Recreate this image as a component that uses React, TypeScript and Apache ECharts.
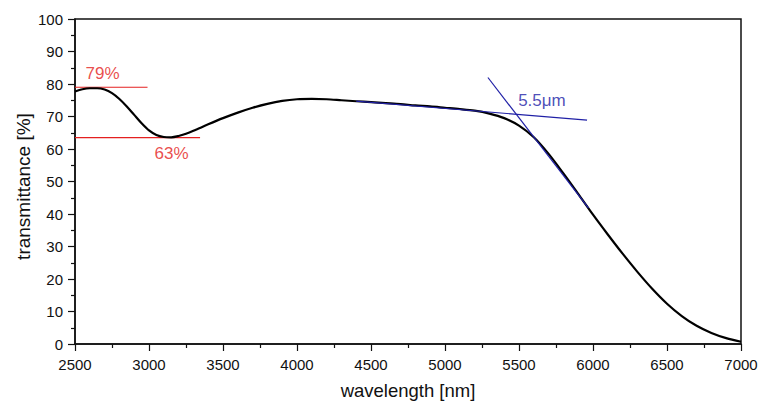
import { useEffect, useRef } from "react";
import * as echarts from "echarts";

const wavelength = [
  2500, 2550, 2600, 2650, 2700, 2750, 2800, 2850, 2900, 2950, 3000, 3050, 3100, 3150, 3200, 3250,
  3300, 3400, 3500, 3600, 3700, 3800, 3900, 4000, 4100, 4200, 4300, 4400, 4500, 4600, 4700, 4800,
  4900, 5000, 5100, 5200, 5300, 5400, 5500, 5600, 5700, 5800, 5900, 6000, 6100, 6200, 6300, 6400,
  6500, 6600, 6700, 6800, 6900, 7000,
];
const transmittance = [
  77.7, 78.4, 78.7, 78.7, 78.3, 77.2, 75.4, 73.1, 70.5, 67.9, 65.7, 64.3, 63.7, 63.6, 64.0, 64.7,
  65.6, 67.6, 69.5, 71.2, 72.7, 73.9, 74.8, 75.3, 75.4, 75.3, 75.0, 74.7, 74.4, 74.1, 73.8, 73.4,
  73.1, 72.7, 72.3, 71.8, 70.9, 69.5, 67.2, 63.6, 58.5, 52.5, 46.2, 39.8, 33.7, 27.8, 22.2, 17.0,
  12.4, 8.6, 5.6, 3.4, 1.8, 0.7,
];

// annotation lines [x, y]
const maxLine = [[2500, 79], [2990, 79]];
const minLine = [[2500, 63.5], [3345, 63.5]];
const plateauTangent = [[4400, 74.75], [5960, 68.9]];
const edgeTangent = [[5290, 82.0], [5970, 41.8]];

// annotation labels
const redLabels = [
  { name: "79%", value: [2686, 83.2] },
  { name: "63%", value: [3152, 58.6] },
];
const blueLabels = [{ name: "5.5\u03bcm", value: [5655, 74.8] }];

const FONT = "Arial, 'Liberation Sans', sans-serif";
const RED = "#e42020";
const BLUE = "#2020a6";

export default function App() {
  const ref = useRef<HTMLDivElement>(null);
  useEffect(() => {
    if (!ref.current) return;
    const chart = echarts.init(ref.current, undefined, { renderer: "svg" });
    const axisCommon = {
      axisLine: { show: true, onZero: false, lineStyle: { color: "#111", width: 1.5 } },
      axisTick: { show: true, inside: false, length: 7, lineStyle: { color: "#111", width: 1.2 } },
      minorTick: { show: true, splitNumber: 2, length: 4, lineStyle: { color: "#111", width: 1.2 } },
      splitLine: { show: false },
      minorSplitLine: { show: false },
    };
    chart.setOption({
      animation: false,
      backgroundColor: "#fff",
      grid: {
        left: 75,
        right: 18,
        top: 19,
        bottom: 57,
        containLabel: false,
        outerBoundsMode: "none",
        show: true,
        borderColor: "#111",
        borderWidth: 1.5,
        backgroundColor: "transparent",
      },
      xAxis: {
        type: "value",
        min: 2500,
        max: 7000,
        interval: 500,
        ...axisCommon,
        axisLabel: {
          color: "#111",
          fontSize: 15,
          fontFamily: FONT,
          margin: 13,
          formatter: (v: number) => String(v),
        },
        name: "wavelength [nm]",
        nameLocation: "middle",
        nameGap: 37,
        nameMoveOverlap: false,
        nameTextStyle: { color: "#111", fontSize: 18.5, fontFamily: FONT },
      },
      yAxis: {
        type: "value",
        min: 0,
        max: 100,
        interval: 10,
        ...axisCommon,
        axisLabel: {
          color: "#111",
          fontSize: 15,
          fontFamily: FONT,
          margin: 12,
          formatter: (v: number) => String(v),
        },
        name: "transmittance [%]",
        nameLocation: "middle",
        nameGap: 42,
        nameMoveOverlap: false,
        nameTextStyle: { color: "#111", fontSize: 19, fontFamily: FONT, padding: [0, 0, 0, -10] },
      },
      series: [
        {
          type: "line",
          data: maxLine,
          symbol: "none",
          lineStyle: { color: RED, width: 1.2 },
          z: 3,
        },
        {
          type: "line",
          data: minLine,
          symbol: "none",
          lineStyle: { color: RED, width: 1.2 },
          z: 3,
        },
        {
          type: "line",
          data: wavelength.map((w, i) => [w, transmittance[i]]),
          symbol: "none",
          smooth: 0.3,
          lineStyle: { color: "#000", width: 2.2 },
          z: 4,
        },
        {
          type: "line",
          data: plateauTangent,
          symbol: "none",
          lineStyle: { color: BLUE, width: 1.2 },
          z: 5,
        },
        {
          type: "line",
          data: edgeTangent,
          symbol: "none",
          lineStyle: { color: BLUE, width: 1.2 },
          z: 5,
        },
        {
          type: "scatter",
          data: redLabels,
          symbolSize: 1,
          itemStyle: { color: "rgba(0,0,0,0)" },
          label: {
            show: true,
            position: "inside",
            formatter: "{b}",
            color: RED,
            fontSize: 17,
            fontFamily: FONT,
          },
          z: 6,
        },
        {
          type: "scatter",
          data: blueLabels,
          symbolSize: 1,
          itemStyle: { color: "rgba(0,0,0,0)" },
          label: {
            show: true,
            position: "inside",
            formatter: "{b}",
            color: BLUE,
            fontSize: 17,
            fontFamily: FONT,
          },
          z: 6,
        },
      ],
    });
    return () => chart.dispose();
  }, []);
  return <div ref={ref} style={{ width: 759, height: 401, position: "absolute", left: 0, top: 0 }} />;
}
